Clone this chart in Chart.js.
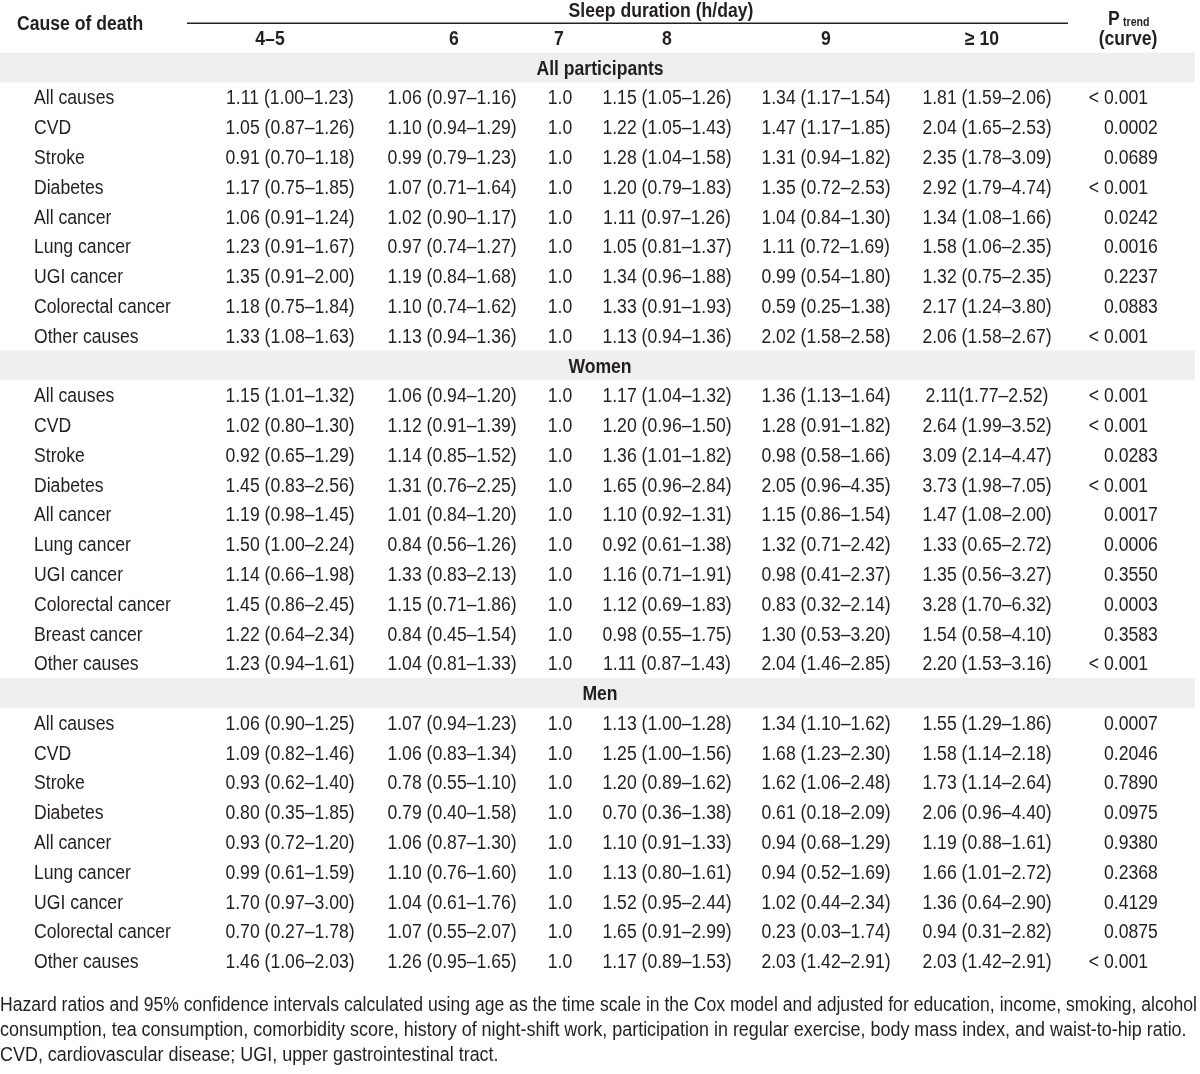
<!DOCTYPE html>
<html lang="en">
<head>
<meta charset="UTF-8">
<title>Sleep duration and cause-specific mortality</title>
<script src="https://cdn.jsdelivr.net/npm/chart.js"></script>
<style>
  body { margin: 0; background: #fff; }
  #wrap { width: 1200px; height: 1074px; position: relative; }
</style>
</head>
<body>
<div id="wrap"><canvas id="tableChart"></canvas></div>
<script>
const groups = ['All participants', 'Women', 'Men'];
const groupSizes = [9, 10, 9];
const columns = ['4–5', '6', '7', '8', '9', '≥ 10'];

const causes = [
  'All causes', 'CVD', 'Stroke', 'Diabetes', 'All cancer', 'Lung cancer', 'UGI cancer', 'Colorectal cancer', 'Other causes',
  'All causes', 'CVD', 'Stroke', 'Diabetes', 'All cancer', 'Lung cancer', 'UGI cancer', 'Colorectal cancer', 'Breast cancer', 'Other causes',
  'All causes', 'CVD', 'Stroke', 'Diabetes', 'All cancer', 'Lung cancer', 'UGI cancer', 'Colorectal cancer', 'Other causes'
];
const hr45 = [
  '1.11 (1.00–1.23)', '1.05 (0.87–1.26)', '0.91 (0.70–1.18)', '1.17 (0.75–1.85)', '1.06 (0.91–1.24)', '1.23 (0.91–1.67)', '1.35 (0.91–2.00)', '1.18 (0.75–1.84)', '1.33 (1.08–1.63)',
  '1.15 (1.01–1.32)', '1.02 (0.80–1.30)', '0.92 (0.65–1.29)', '1.45 (0.83–2.56)', '1.19 (0.98–1.45)', '1.50 (1.00–2.24)', '1.14 (0.66–1.98)', '1.45 (0.86–2.45)', '1.22 (0.64–2.34)', '1.23 (0.94–1.61)',
  '1.06 (0.90–1.25)', '1.09 (0.82–1.46)', '0.93 (0.62–1.40)', '0.80 (0.35–1.85)', '0.93 (0.72–1.20)', '0.99 (0.61–1.59)', '1.70 (0.97–3.00)', '0.70 (0.27–1.78)', '1.46 (1.06–2.03)'
];
const hr6 = [
  '1.06 (0.97–1.16)', '1.10 (0.94–1.29)', '0.99 (0.79–1.23)', '1.07 (0.71–1.64)', '1.02 (0.90–1.17)', '0.97 (0.74–1.27)', '1.19 (0.84–1.68)', '1.10 (0.74–1.62)', '1.13 (0.94–1.36)',
  '1.06 (0.94–1.20)', '1.12 (0.91–1.39)', '1.14 (0.85–1.52)', '1.31 (0.76–2.25)', '1.01 (0.84–1.20)', '0.84 (0.56–1.26)', '1.33 (0.83–2.13)', '1.15 (0.71–1.86)', '0.84 (0.45–1.54)', '1.04 (0.81–1.33)',
  '1.07 (0.94–1.23)', '1.06 (0.83–1.34)', '0.78 (0.55–1.10)', '0.79 (0.40–1.58)', '1.06 (0.87–1.30)', '1.10 (0.76–1.60)', '1.04 (0.61–1.76)', '1.07 (0.55–2.07)', '1.26 (0.95–1.65)'
];
const hr7 = causes.map(() => '1.0'); // reference category
const hr8 = [
  '1.15 (1.05–1.26)', '1.22 (1.05–1.43)', '1.28 (1.04–1.58)', '1.20 (0.79–1.83)', '1.11 (0.97–1.26)', '1.05 (0.81–1.37)', '1.34 (0.96–1.88)', '1.33 (0.91–1.93)', '1.13 (0.94–1.36)',
  '1.17 (1.04–1.32)', '1.20 (0.96–1.50)', '1.36 (1.01–1.82)', '1.65 (0.96–2.84)', '1.10 (0.92–1.31)', '0.92 (0.61–1.38)', '1.16 (0.71–1.91)', '1.12 (0.69–1.83)', '0.98 (0.55–1.75)', '1.11 (0.87–1.43)',
  '1.13 (1.00–1.28)', '1.25 (1.00–1.56)', '1.20 (0.89–1.62)', '0.70 (0.36–1.38)', '1.10 (0.91–1.33)', '1.13 (0.80–1.61)', '1.52 (0.95–2.44)', '1.65 (0.91–2.99)', '1.17 (0.89–1.53)'
];
const hr9 = [
  '1.34 (1.17–1.54)', '1.47 (1.17–1.85)', '1.31 (0.94–1.82)', '1.35 (0.72–2.53)', '1.04 (0.84–1.30)', '1.11 (0.72–1.69)', '0.99 (0.54–1.80)', '0.59 (0.25–1.38)', '2.02 (1.58–2.58)',
  '1.36 (1.13–1.64)', '1.28 (0.91–1.82)', '0.98 (0.58–1.66)', '2.05 (0.96–4.35)', '1.15 (0.86–1.54)', '1.32 (0.71–2.42)', '0.98 (0.41–2.37)', '0.83 (0.32–2.14)', '1.30 (0.53–3.20)', '2.04 (1.46–2.85)',
  '1.34 (1.10–1.62)', '1.68 (1.23–2.30)', '1.62 (1.06–2.48)', '0.61 (0.18–2.09)', '0.94 (0.68–1.29)', '0.94 (0.52–1.69)', '1.02 (0.44–2.34)', '0.23 (0.03–1.74)', '2.03 (1.42–2.91)'
];
const hr10 = [
  '1.81 (1.59–2.06)', '2.04 (1.65–2.53)', '2.35 (1.78–3.09)', '2.92 (1.79–4.74)', '1.34 (1.08–1.66)', '1.58 (1.06–2.35)', '1.32 (0.75–2.35)', '2.17 (1.24–3.80)', '2.06 (1.58–2.67)',
  '2.11(1.77–2.52)', '2.64 (1.99–3.52)', '3.09 (2.14–4.47)', '3.73 (1.98–7.05)', '1.47 (1.08–2.00)', '1.33 (0.65–2.72)', '1.35 (0.56–3.27)', '3.28 (1.70–6.32)', '1.54 (0.58–4.10)', '2.20 (1.53–3.16)',
  '1.55 (1.29–1.86)', '1.58 (1.14–2.18)', '1.73 (1.14–2.64)', '2.06 (0.96–4.40)', '1.19 (0.88–1.61)', '1.66 (1.01–2.72)', '1.36 (0.64–2.90)', '0.94 (0.31–2.82)', '2.03 (1.42–2.91)'
];
const pTrend = [
  '< 0.001', '0.0002', '0.0689', '< 0.001', '0.0242', '0.0016', '0.2237', '0.0883', '< 0.001',
  '< 0.001', '< 0.001', '0.0283', '< 0.001', '0.0017', '0.0006', '0.3550', '0.0003', '0.3583', '< 0.001',
  '0.0007', '0.2046', '0.7890', '0.0975', '0.9380', '0.2368', '0.4129', '0.0875', '< 0.001'
];
const footnote = [
  'Hazard ratios and 95% confidence intervals calculated using age as the time scale in the Cox model and adjusted for education, income, smoking, alcohol',
  'consumption, tea consumption, comorbidity score, history of night-shift work, participation in regular exercise, body mass index, and waist-to-hip ratio.',
  'CVD, cardiovascular disease; UGI, upper gastrointestinal tract.'
];

// layout (pixels on x, row index on y)
const labelX = 34;
const colX = [290, 452, 560, 667, 826, 987];
const headX = [270, 454, 559, 667, 826, 982];
const pX = 1104;
const bandX = 600;
const FONT = "'Liberation Sans', Arial, sans-serif";
const NARROW = 0.88; // squeeze Arial-metric font to look like a condensed face
const INK = '#231f20';

// row index for every band and cell row
const bandRows = [];
const cellRows = [];
let r = 0;
groups.forEach((g, gi) => {
  bandRows.push(r++);
  for (let k = 0; k < groupSizes[gi]; k++) cellRows.push(r++);
});

const cellSets = [hr45, hr6, hr7, hr8, hr9, hr10];

function textSet(texts, rows, x, align, bold) {
  return {
    data: texts.map((t, i) => ({ x: x, y: rows[i], t: t })),
    pointRadius: 0, pointHoverRadius: 0, hitRadius: 0,
    showLine: false, align: align, bold: bold
  };
}

const datasets = [
  textSet(causes, cellRows, labelX, 'left', false),
  ...cellSets.map((set, c) => textSet(set, cellRows, colX[c], 'center', false)),
  textSet(pTrend, cellRows, pX, 'p', false),
  textSet(groups, bandRows, bandX, 'center', true)
];

// draw narrow text; y is the visual middle of the capitals
function narrowText(ctx, t, x, y, align, size, maxW, squeeze) {
  const k = squeeze || NARROW;
  ctx.save();
  ctx.translate(x, y + size * 0.36);
  ctx.scale(k, 1);
  ctx.textAlign = align;
  if (maxW) ctx.fillText(t, 0, 0, maxW / k);
  else ctx.fillText(t, 0, 0);
  ctx.restore();
}

const tablePlugin = {
  id: 'tablePlugin',
  beforeDatasetsDraw(chart) {
    const { ctx, scales: { x, y } } = chart;
    ctx.save();
    ctx.fillStyle = '#efefef';
    bandRows.forEach(br => {
      const top = y.getPixelForValue(br - 0.5);
      const bot = y.getPixelForValue(br + 0.5);
      ctx.fillRect(x.getPixelForValue(0), top, x.getPixelForValue(1195) - x.getPixelForValue(0), bot - top);
    });
    ctx.restore();
  },
  afterDatasetsDraw(chart) {
    const { ctx, scales: { x, y } } = chart;
    ctx.save();
    ctx.fillStyle = INK;
    ctx.textBaseline = 'alphabetic';

    chart.data.datasets.forEach((ds, di) => {
      const meta = chart.getDatasetMeta(di);
      ctx.font = (ds.bold ? 'bold ' : '') + '20px ' + FONT;
      meta.data.forEach((pt, i) => {
        const t = ds.data[i].t;
        if (ds.align === 'p') {
          // numbers start at one edge, "<" hangs to the left
          if (t.startsWith('<')) {
            narrowText(ctx, t.replace('<', '').trim(), pt.x, pt.y, 'left', 20);
            narrowText(ctx, '< ', pt.x, pt.y, 'right', 20);
          } else {
            narrowText(ctx, t, pt.x, pt.y, 'left', 20);
          }
        } else {
          narrowText(ctx, t, pt.x, pt.y, ds.align, 20);
        }
      });
    });

    // header
    ctx.font = 'bold 20px ' + FONT;
    narrowText(ctx, 'Cause of death', x.getPixelForValue(17), y.getPixelForValue(-1.49), 'left', 20);
    narrowText(ctx, 'Sleep duration (h/day)', x.getPixelForValue(661), y.getPixelForValue(-1.93), 'center', 20);
    columns.forEach((c, i) => narrowText(ctx, c, x.getPixelForValue(headX[i]), y.getPixelForValue(-0.99), 'center', 20));
    narrowText(ctx, '(curve)', x.getPixelForValue(1128), y.getPixelForValue(-0.99), 'center', 20);
    narrowText(ctx, 'P', x.getPixelForValue(1108), y.getPixelForValue(-1.68), 'left', 21);
    ctx.font = 'bold 12px ' + FONT;
    narrowText(ctx, 'trend', x.getPixelForValue(1123), y.getPixelForValue(-1.55), 'left', 12);

    ctx.strokeStyle = INK;
    ctx.lineWidth = 1.5;
    ctx.beginPath();
    ctx.moveTo(x.getPixelForValue(187), y.getPixelForValue(-1.49));
    ctx.lineTo(x.getPixelForValue(1068), y.getPixelForValue(-1.49));
    ctx.stroke();

    // footnote
    ctx.font = '19.5px ' + FONT;
    footnote.forEach((line, i) => {
      narrowText(ctx, line, x.getPixelForValue(0), y.getPixelForValue(31.45 + i * 0.84), 'left', 19.5, 1197, 0.92);
    });
    ctx.restore();
  }
};

new Chart(document.getElementById('tableChart'), {
  type: 'scatter',
  data: { datasets: datasets },
  options: {
    responsive: true,
    maintainAspectRatio: false,
    animation: false,
    events: [],
    layout: { padding: 0 },
    plugins: { legend: { display: false }, tooltip: { enabled: false } },
    scales: {
      x: { type: 'linear', display: false, min: 0, max: 1200 },
      y: { type: 'linear', display: false, reverse: true, min: -2.2667, max: 33.797 }
    }
  },
  plugins: [tablePlugin]
});
</script>
</body>
</html>
